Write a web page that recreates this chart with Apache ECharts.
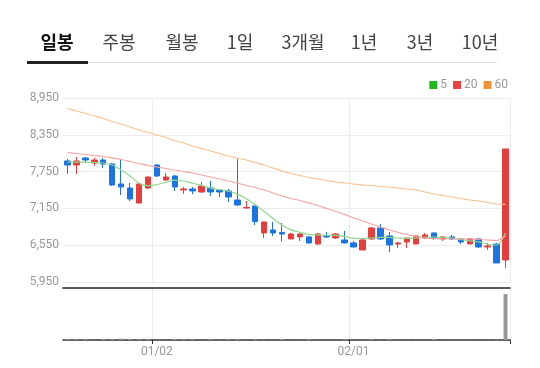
<!DOCTYPE html>
<html>
<head>
<meta charset="utf-8">
<script src="https://cdn.jsdelivr.net/npm/echarts@6/dist/echarts.min.js"></script>
<style>
  html, body { margin: 0; padding: 0; background: #fff; }
  #chart { width: 540px; height: 368px; }
</style>
</head>
<body>
<div id="chart"></div>
<script>
// period tabs
const tabs = ['일봉', '주봉', '월봉', '1일', '3개월', '1년', '3년', '10년'];
const tabX = [57, 119, 182, 240, 303, 364, 420, 480];

// trading days
const dates = [
  '12/14', '12/15', '12/18', '12/19', '12/20', '12/21', '12/22', '12/26', '12/27', '12/28',
  '01/02', '01/03', '01/04', '01/05', '01/08', '01/09', '01/10', '01/11', '01/12', '01/15',
  '01/16', '01/17', '01/18', '01/19', '01/22', '01/23', '01/24', '01/25', '01/26', '01/29',
  '01/30', '01/31', '02/01', '02/02', '02/05', '02/06', '02/07', '02/08', '02/13', '02/14',
  '02/15', '02/16', '02/19', '02/20', '02/21', '02/22', '02/23', '02/26', '02/27', '02/28'
];
const tickLabels = ['01/02', '02/01'];

const opens = [
  7923, 7858, 7972, 7890, 7939, 7874, 7548, 7483, 7238, 7483,
  7858, 7613, 7678, 7450, 7467, 7418, 7483, 7450, 7434, 7287,
  7157, 7190, 6750, 6798, 6758, 6652, 6685, 6685, 6570, 6701,
  6668, 6635, 6587, 6472, 6652, 6831, 6701, 6570, 6603, 6570,
  6668, 6750, 6652, 6685, 6652, 6570, 6652, 6521, 6570, 6309
];
const closes = [
  7858, 7923, 7939, 7939, 7874, 7532, 7499, 7304, 7548, 7662,
  7678, 7662, 7499, 7467, 7434, 7515, 7418, 7418, 7336, 7206,
  7165, 6934, 6929, 6750, 6733, 6733, 6733, 6587, 6733, 6685,
  6733, 6587, 6521, 6635, 6831, 6652, 6554, 6587, 6668, 6701,
  6717, 6668, 6685, 6652, 6603, 6652, 6521, 6538, 6260, 8119
];
const lows = [
  7711, 7711, 7890, 7842, 7809, 7515, 7369, 7271, 7230, 7467,
  7662, 7597, 7434, 7385, 7385, 7401, 7353, 7336, 7255, 7190,
  7149, 6880, 6668, 6701, 6610, 6652, 6619, 6570, 6554, 6668,
  6652, 6579, 6513, 6472, 6635, 6635, 6440, 6505, 6505, 6570,
  6652, 6635, 6619, 6635, 6570, 6570, 6505, 6472, 6260, 6179
];
const highs = [
  7956, 7988, 7988, 7972, 7972, 7890, 7956, 7564, 7564, 7670,
  7868, 7727, 7695, 7499, 7499, 7581, 7597, 7467, 7467, 7956,
  7271, 7195, 6934, 6929, 6913, 6750, 6750, 6701, 6750, 6766,
  6750, 6782, 6619, 6652, 6853, 6896, 6766, 6603, 6668, 6701,
  6750, 6755, 6701, 6717, 6652, 6652, 6652, 6587, 6587, 8119
];

const ma5 = [
  7906, 7906, 7906, 7898, 7890, 7858, 7776, 7678, 7560, 7520,
  7540, 7575, 7610, 7597, 7560, 7525, 7480, 7455, 7430, 7382,
  7306, 7208, 7100, 6985, 6880, 6800, 6760, 6725, 6715, 6712,
  6710, 6695, 6660, 6659, 6667, 6676, 6676, 6667, 6659, 6667,
  6676, 6684, 6676, 6667, 6640, 6622, 6605, 6565, 6553, 6749
];
const ma20 = [
  8061, 8045, 8029, 8012, 7996, 7975, 7947, 7915, 7882, 7849,
  7825, 7801, 7776, 7752, 7727, 7695, 7662, 7629, 7597, 7564,
  7523, 7491, 7450, 7401, 7352, 7311, 7279, 7238, 7197, 7148,
  7100, 7051, 6994, 6945, 6896, 6847, 6798, 6757, 6725, 6692,
  6667, 6659, 6651, 6651, 6651, 6651, 6643, 6635, 6627, 6700
];
const ma60 = [
  8779, 8738, 8697, 8657, 8616, 8567, 8526, 8477, 8428, 8388,
  8347, 8306, 8257, 8216, 8167, 8127, 8086, 8045, 8004, 7972,
  7939, 7898, 7858, 7809, 7760, 7719, 7686, 7654, 7629, 7605,
  7580, 7564, 7548, 7532, 7523, 7507, 7499, 7483, 7466, 7450,
  7417, 7385, 7360, 7336, 7311, 7287, 7271, 7246, 7222, 7214
];
const volumes = [
  2, 2, 2, 0.5, 2, 2, 3, 2, 2, 2,
  0.5, 0.5, 2, 2, 2, 0.5, 2, 0.5, 2, 2,
  0.5, 2, 0.5, 0.5, 2, 0.5, 0.5, 2, 0.5, 0.5,
  0.5, 2, 0.5, 0.5, 2, 0.5, 2, 0.5, 0.5, 0.5,
  0.5, 2, 0.5, 0.5, 0.5, 0.5, 0.5, 0.5, 1, 100
];

const candles = dates.map((d, i) => [opens[i], closes[i], lows[i], highs[i]]);

const upColor = '#e53e3e';
const downColor = '#1a74e2';
const showDate = (idx, value) => tickLabels.indexOf(value) >= 0;

const chart = echarts.init(document.getElementById('chart'));

const tabGraphics = tabs.map((t, i) => ({
  type: 'text',
  x: tabX[i],
  y: 42,
  style: {
    text: t,
    fontFamily: '"Noto Sans CJK KR", Roboto, sans-serif',
    fontSize: 18,
    fontWeight: i === 0 ? 'bold' : 'normal',
    fill: i === 0 ? '#111' : '#444',
    textAlign: 'center',
    textVerticalAlign: 'middle'
  }
}));

const option = {
  animation: false,
  textStyle: { fontFamily: 'Roboto, "Noto Sans CJK KR", sans-serif' },
  graphic: [
    ...tabGraphics,
    { type: 'rect', shape: { x: 27, y: 62, width: 470, height: 1 }, style: { fill: '#e2e2e2' } },
    { type: 'rect', shape: { x: 27, y: 61, width: 61, height: 3 }, style: { fill: '#222' } }
  ],
  legend: {
    right: 32,
    top: 79,
    padding: 0,
    itemGap: 6,
    itemWidth: 8,
    itemHeight: 8,
    icon: 'rect',
    textStyle: { color: '#999', fontSize: 12, padding: [0, 0, 0, -2] },
    data: ['5', '20', '60']
  },
  grid: [
    { left: 63, right: 30, top: 98, height: 184 },
    { left: 63, right: 30, top: 288, height: 52 }
  ],
  xAxis: [
    {
      type: 'category',
      gridIndex: 0,
      data: dates,
      axisLine: { show: false },
      axisTick: { show: false },
      axisLabel: { show: false },
      splitLine: { show: true, interval: showDate, lineStyle: { color: '#ececec' } }
    },
    {
      type: 'category',
      gridIndex: 1,
      data: dates,
      position: 'bottom',
      axisLine: { show: true, lineStyle: { color: '#333', width: 1.5 } },
      axisTick: { show: true, interval: showDate, length: 4, lineStyle: { color: '#333' } },
      axisLabel: { interval: showDate, color: '#999', fontSize: 12, margin: 6 },
      splitLine: { show: true, interval: showDate, lineStyle: { color: '#ececec' } }
    },
    {
      type: 'category',
      gridIndex: 1,
      data: dates,
      position: 'top',
      axisLine: { show: true, lineStyle: { color: '#222', width: 1.5 } },
      axisTick: { show: false },
      axisLabel: { show: false }
    }
  ],
  yAxis: [
    {
      type: 'value',
      gridIndex: 0,
      min: 5950,
      max: 8950,
      interval: 600,
      axisLine: { show: false },
      axisTick: { show: false },
      axisLabel: { color: '#999', fontSize: 12, margin: 4 },
      splitLine: { lineStyle: { color: '#ececec' } }
    },
    {
      type: 'value',
      gridIndex: 1,
      min: 0,
      max: 113,
      show: false,
      splitLine: { show: false }
    }
  ],
  series: [
    {
      name: 'price',
      type: 'candlestick',
      xAxisIndex: 0,
      yAxisIndex: 0,
      barWidth: 6,
      data: candles,
      itemStyle: {
        color: upColor,
        color0: downColor,
        borderColor: upColor,
        borderColor0: downColor,
        borderWidth: 1
      }
    },
    {
      name: '5',
      type: 'line',
      data: ma5,
      smooth: 0.3,
      symbol: 'none',
      itemStyle: { color: '#1fba1f' },
      lineStyle: { color: '#8fd88f', width: 1.2 }
    },
    {
      name: '20',
      type: 'line',
      data: ma20,
      smooth: 0.3,
      symbol: 'none',
      itemStyle: { color: '#ef3f3f' },
      lineStyle: { color: '#f3a3a3', width: 1.2 }
    },
    {
      name: '60',
      type: 'line',
      data: ma60,
      smooth: 0.3,
      symbol: 'none',
      itemStyle: { color: '#f39232' },
      lineStyle: { color: '#f7c291', width: 1.2 }
    },
    {
      name: 'volume',
      type: 'bar',
      xAxisIndex: 1,
      yAxisIndex: 1,
      barWidth: 4,
      data: volumes,
      itemStyle: { color: '#999' }
    }
  ]
};

chart.setOption(option);
</script>
</body>
</html>
